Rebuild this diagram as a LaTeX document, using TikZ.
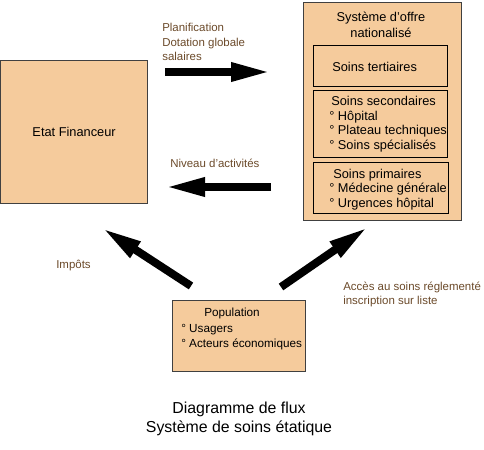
\documentclass[tikz,border=0pt]{standalone}
\usepackage{fontspec}
\setmainfont{Liberation Sans}
\usetikzlibrary{arrows.meta}
\definecolor{boxfill}{HTML}{F5CB9C}
\definecolor{labelbrown}{HTML}{6B4A2A}
\tikzset{box/.style={draw=black!75, fill=boxfill, line width=0.9pt, anchor=north west, inner sep=0pt},
         subbox/.style={box, draw=black, line width=0.8pt},
         flow/.style={line width=6pt, -{Triangle[length=30pt,width=13pt]}},
         txt/.style={anchor=base west, inner sep=0pt, font=\fontsize{9.6}{11}\selectfont},
         poptxt/.style={txt, font=\fontsize{8.8}{10}\selectfont},
         lbl/.style={txt, text=labelbrown, font=\fontsize{8.6}{10}\selectfont}}

\begin{document}
\begin{tikzpicture}[x=0.75pt,y=-0.75pt]
\useasboundingbox (0,0) rectangle (484,449);
% boites
\node[box, minimum width=110.25pt, minimum height=107.25pt, font=\fontsize{9.6}{11}\selectfont] (etat) at (0,60) {Etat Financeur};
\node[box, minimum width=118.5pt, minimum height=163.5pt] (offre) at (303,2) {};
\node[subbox, minimum width=100.5pt, minimum height=30.75pt] (tert) at (313,45) {};
\node[subbox, minimum width=100.5pt, minimum height=50.25pt] (second) at (313,90) {};
\node[subbox, minimum width=101.25pt, minimum height=38.25pt] (prim) at (313,162) {};
\node[box, minimum width=99.75pt, minimum height=53.25pt] (pop) at (172,300) {};
% textes des boites
\node[txt, anchor=base] (offreA) at (381,21.5) {Système d’offre};
\node[txt, anchor=base] (offreB) at (381,37.5) {nationalisé};
\node[txt] (tertA) at (332,71.5) {Soins tertiaires};
\node[txt] (secA) at (331,105.5) {Soins secondaires};
\node[txt] (secB) at (329,120) {° Hôpital};
\node[txt] (secC) at (329,134.5) {° Plateau techniques};
\node[txt] (secD) at (329,149) {° Soins spécialisés};
\node[txt] (primA) at (333,178.5) {Soins primaires};
\node[txt] (primB) at (329,192.5) {° Médecine générale};
\node[txt] (primC) at (329,207) {° Urgences hôpital};
\node[poptxt] (popA) at (204,316.5) {Population};
\node[poptxt] (popB) at (181,332) {° Usagers};
\node[poptxt] (popC) at (181,347) {° Acteurs économiques};
% flux
\coordinate (planT) at (165,72);
\coordinate (planH) at (271,72);
\coordinate (nivT) at (271,187);
\coordinate (nivH) at (165,187);
\coordinate (impT) at (191,286);
\coordinate (impH) at (102,228);
\coordinate (accT) at (281,287);
\coordinate (accH) at (368,227);
\draw[flow] (planT) -- (planH);
\draw[flow] (nivT) -- (nivH);
\draw[flow] (impT) -- (impH);
\draw[flow] (accT) -- (accH);
\node[lbl] (planA) at (162,32) {Planification};
\node[lbl] (planB) at (162,47) {Dotation globale};
\node[lbl] (planC) at (162,61) {salaires};
\node[lbl] (niv) at (170,167) {Niveau d’activités};
\node[lbl] (imp) at (56,268) {Impôts};
\node[lbl] (accA) at (343,290) {Accès au soins réglementé};
\node[lbl] (accB) at (343,304) {inscription sur liste};
% legende
\node[txt, anchor=base, font=\fontsize{11.9}{14}\selectfont] (capA) at (239,413) {Diagramme de flux};
\node[txt, anchor=base, font=\fontsize{11.9}{14}\selectfont] (capB) at (239,432) {Système de soins étatique};
\end{tikzpicture}
\end{document}
